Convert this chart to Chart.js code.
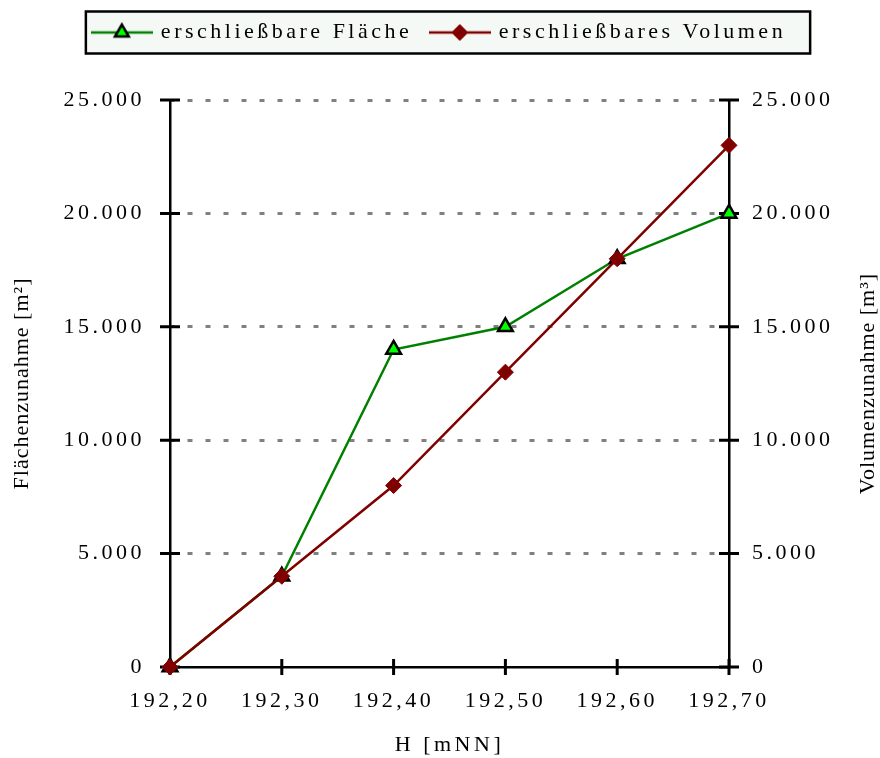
<!DOCTYPE html>
<html lang="de">
<head>
<meta charset="utf-8">
<title>Flächen- und Volumenzunahme</title>
<script src="https://cdn.jsdelivr.net/npm/chart.js@4.4.1/dist/chart.umd.min.js"></script>
<style>
  html, body { margin: 0; padding: 0; background: #fff; }
  #box { width: 880px; height: 758px; }
</style>
</head>
<body>
<div id="box"><canvas id="chart" width="880" height="758"></canvas></div>
<script>
// Höhenstufen (x-Achse)
const hoehen = ['192,20', '192,30', '192,40', '192,50', '192,60', '192,70'];
// erschließbare Fläche [m²]
const flaeche = [0, 4000, 14000, 15000, 18000, 20000];
// erschließbares Volumen [m³]
const volumen = [0, 4000, 8000, 13000, 18000, 23000];
// Teilung beider y-Achsen
const yMin = 0;
const yMax = 25000;
const yStep = 5000;

const labelFlaeche = 'erschließbare Fläche';
const labelVolumen = 'erschließbares Volumen';
const titelLinks = 'Flächenzunahme [m²]';
const titelRechts = 'Volumenzunahme [m³]';
const titelUnten = 'H [mNN]';

const FONT = 'Liberation Serif';
const SIZE = 22;
const SPACING = '3.5px';

Chart.defaults.font.family = FONT;
Chart.defaults.font.size = SIZE;
Chart.defaults.color = '#000';

// 25000 -> "25.000"
function formatTausend(v) {
    return String(v).replace(/\B(?=(\d{3})+(?!\d))/g, '.');
}

// Legendensymbol: Linie mit Marker
function makeLegendIcon(lineColor, fill, stroke, style, bw) {
    const c = document.createElement('canvas');
    c.width = 62;
    c.height = 22;
    const g = c.getContext('2d');
    g.strokeStyle = lineColor;
    g.lineWidth = 2.5;
    g.beginPath();
    g.moveTo(0, 11);
    g.lineTo(62, 11);
    g.stroke();
    g.fillStyle = fill;
    g.strokeStyle = stroke;
    g.lineWidth = bw;
    Chart.helpers.drawPoint(g, {pointStyle: style, radius: 8, borderWidth: bw, rotation: 0}, 31, 11);
    return c;
}

const iconVolumen = makeLegendIcon('#800000', '#800000', '#800000', 'rectRot', 1);
const iconFlaeche = makeLegendIcon('#008000', '#00ff00', '#000000', 'triangle', 2.5);

// Zeichenabstand wie im Original
const textAbstand = {
    id: 'textAbstand',
    beforeUpdate(chart) { chart.ctx.letterSpacing = SPACING; },
    beforeLayout(chart) { chart.ctx.letterSpacing = SPACING; },
    beforeDraw(chart) { chart.ctx.letterSpacing = SPACING; }
};

// Rahmen um die Legende
const legendRahmen = {
    id: 'legendRahmen',
    beforeDraw(chart) {
        const hb = chart.legend && chart.legend.legendHitBoxes;
        if (!hb || !hb.length) return;
        const ctx = chart.ctx;
        const l = Math.min(...hb.map(b => b.left)) - 8;
        const r = Math.max(...hb.map(b => b.left + b.width)) + 24;
        const t = Math.min(...hb.map(b => b.top)) - 10;
        const u = Math.max(...hb.map(b => b.top + b.height)) + 10;
        ctx.save();
        ctx.fillStyle = '#f5f9f5';
        ctx.fillRect(l, t, r - l, u - t);
        ctx.strokeStyle = '#000';
        ctx.lineWidth = 2.5;
        ctx.strokeRect(l, t, r - l, u - t);
        ctx.restore();
    }
};

// Teilstriche quer über die Achsen, y-Titel (beide von unten nach oben)
const achsen = {
    id: 'achsen',
    beforeDatasetsDraw(chart) {
        const {ctx, chartArea: a, scales} = chart;
        ctx.save();
        ctx.strokeStyle = '#000';
        ctx.lineWidth = 3;
        ctx.beginPath();
        scales.x.ticks.forEach((t, i) => {
            const px = scales.x.getPixelForTick(i);
            ctx.moveTo(px, a.bottom - 8);
            ctx.lineTo(px, a.bottom + 8);
        });
        [['y', a.left], ['y1', a.right]].forEach(([id, ax]) => {
            const s = scales[id];
            s.ticks.forEach((t, i) => {
                const py = s.getPixelForTick(i);
                ctx.moveTo(ax - 10, py);
                ctx.lineTo(ax + 10, py);
            });
        });
        ctx.stroke();
        ctx.restore();
    },
    afterDraw(chart) {
        const {ctx, chartArea: a} = chart;
        const mid = (a.top + a.bottom) / 2;
        ctx.save();
        ctx.letterSpacing = '1px';
        ctx.font = SIZE + 'px "' + FONT + '"';
        ctx.fillStyle = '#000';
        ctx.textAlign = 'center';
        ctx.textBaseline = 'middle';
        [[22, titelLinks], [868, titelRechts]].forEach(([x, txt]) => {
            ctx.save();
            ctx.translate(x, mid);
            ctx.rotate(-Math.PI / 2);
            ctx.fillText(txt, 0, 0);
            ctx.restore();
        });
        ctx.restore();
    }
};

const yTicks = {
    stepSize: yStep,
    callback: formatTausend,
    color: '#000',
    font: {size: SIZE}
};

new Chart(document.getElementById('chart'), {
    type: 'line',
    data: {
        labels: hoehen,
        datasets: [
            {
                label: labelVolumen,
                data: volumen,
                yAxisID: 'y1',
                borderColor: '#800000',
                backgroundColor: '#800000',
                borderWidth: 2.5,
                pointStyle: 'rectRot',
                pointRadius: 8,
                pointBackgroundColor: '#800000',
                pointBorderColor: '#800000',
                pointBorderWidth: 1,
                tension: 0,
                clip: false
            },
            {
                label: labelFlaeche,
                data: flaeche,
                yAxisID: 'y',
                borderColor: '#008000',
                backgroundColor: '#00ff00',
                borderWidth: 2.5,
                pointStyle: 'triangle',
                pointRadius: 8.5,
                pointBackgroundColor: '#00ff00',
                pointBorderColor: '#000',
                pointBorderWidth: 2.5,
                tension: 0,
                clip: false
            }
        ]
    },
    options: {
        responsive: false,
        animation: false,
        events: [],
        layout: {padding: {top: 2, left: 0, right: 0, bottom: 0}},
        plugins: {
            legend: {
                reverse: true,
                labels: {
                    usePointStyle: true,
                    pointStyleWidth: 56,
                    padding: 19.5,
                    color: '#000',
                    font: {size: SIZE},
                    generateLabels(chart) {
                        const items = Chart.defaults.plugins.legend.labels.generateLabels(chart);
                        items.forEach(it => {
                            it.pointStyle = it.datasetIndex === 0 ? iconVolumen : iconFlaeche;
                        });
                        return items;
                    }
                }
            },
            // nur Abstand zwischen Legende und Diagramm
            subtitle: {
                display: true,
                text: ' ',
                weight: 500,
                font: {size: 1},
                padding: {top: 0, bottom: 45.3}
            },
            tooltip: {enabled: false}
        },
        scales: {
            x: {
                type: 'category',
                offset: false,
                grid: {drawOnChartArea: false, drawTicks: false},
                border: {color: '#000', width: 2.5},
                ticks: {color: '#000', padding: 21, maxRotation: 0, autoSkip: false, font: {size: SIZE}},
                title: {display: true, text: titelUnten, color: '#000', font: {size: SIZE}, padding: {top: 0, bottom: 0}},
                afterFit(s) { s.height = 91; }
            },
            y: {
                position: 'left',
                min: yMin,
                max: yMax,
                ticks: Object.assign({padding: 25}, yTicks),
                grid: {
                    color: ctx => (ctx.tick && ctx.tick.value === 0) ? 'rgba(0,0,0,0)' : '#808080',
                    lineWidth: 3,
                    drawTicks: false
                },
                border: {color: '#000', width: 2.5, dash: [5, 13], dashOffset: 2},
                afterFit(s) { s.width = 170; }
            },
            y1: {
                position: 'right',
                min: yMin,
                max: yMax,
                ticks: Object.assign({padding: 23}, yTicks),
                grid: {display: false, drawTicks: false},
                border: {color: '#000', width: 2.5},
                afterFit(s) { s.width = 151; }
            }
        }
    },
    plugins: [textAbstand, legendRahmen, achsen]
});
</script>
</body>
</html>
